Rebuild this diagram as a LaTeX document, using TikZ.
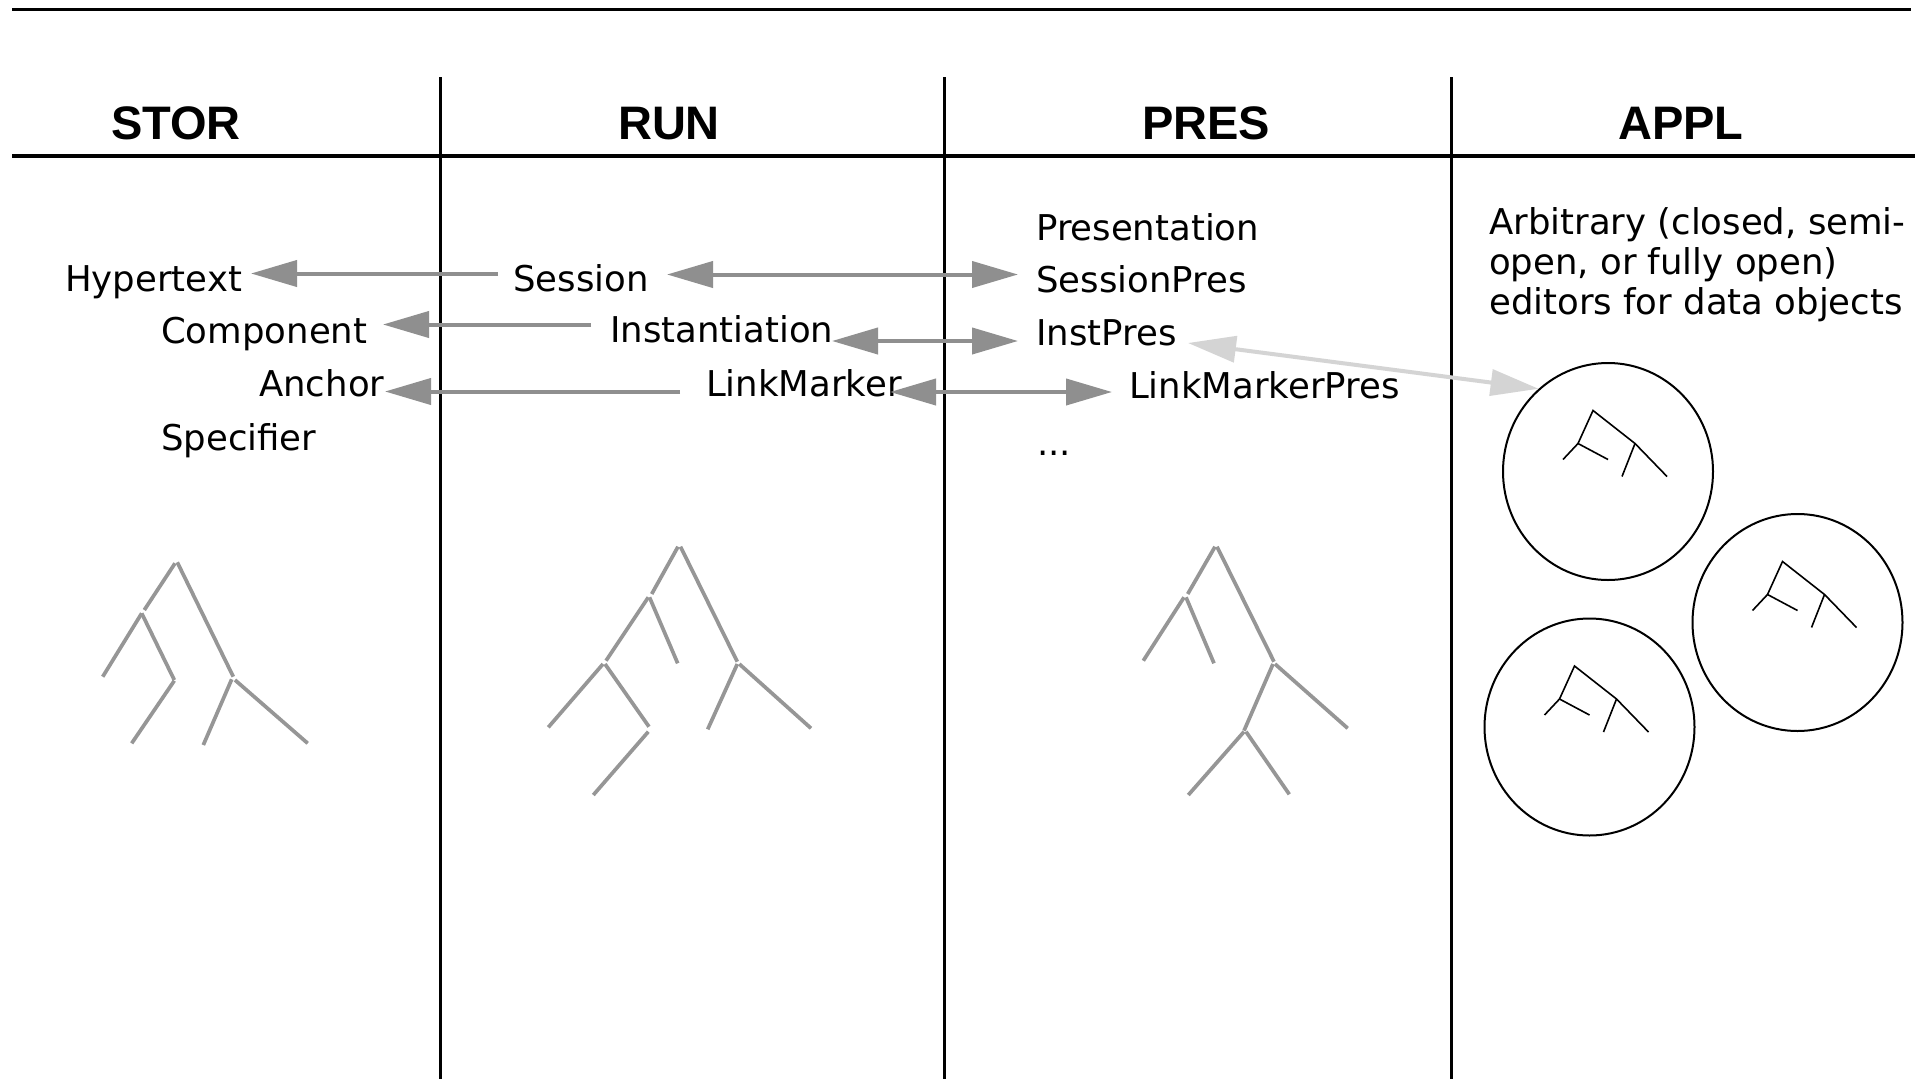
\documentclass[tikz,border=0pt]{standalone}
\usepackage{fontspec}
\setmainfont{DejaVu Sans}
\newfontfamily\hdfont{Liberation Sans}
\usetikzlibrary{arrows.meta,shapes.geometric}
\definecolor{agray}{RGB}{143,143,143}
\definecolor{lgray}{RGB}{212,212,212}
\definecolor{tgray}{RGB}{150,150,150}
\tikzset{
  lbl/.style={anchor=base west,inner sep=0pt,font=\fontsize{35.5}{40}\selectfont},
  hdr/.style={anchor=base,inner sep=0pt,font=\hdfont\bfseries\fontsize{47}{50}\selectfont},
  rulethin/.style={draw=black,line width=3pt},
  rulethick/.style={draw=black,line width=4pt},
  garr/.style={draw=agray,line width=4pt,-{Triangle[length=46pt,width=26pt]}},
  gdarr/.style={draw=agray,line width=4pt,{Triangle[length=46pt,width=26pt]}-{Triangle[length=46pt,width=26pt]}},
  ldarr/.style={draw=lgray,line width=4pt,{Triangle[length=48pt,width=26pt]}-{Triangle[length=48pt,width=26pt]}},
  branch/.style={draw=tgray,line width=3.7pt},
  twig/.style={draw=black,line width=1.6pt},
  editor/.style={draw=black,line width=2pt,ellipse,inner sep=0pt,minimum width=210pt,minimum height=217pt},
}
\newcommand\edtree[2]{%
  \begin{scope}[shift={(#1,#2)}]
    \draw[twig] (-45,-12) -- (-30,-28) -- (-15,-61) -- (27,-28) -- (59,5);
    \draw[twig] (-30,-28) -- (0,-12);
    \draw[twig] (27,-28) -- (14,5);
  \end{scope}}
\begin{document}
\begin{tikzpicture}[x=1pt,y=-1pt]
\useasboundingbox[fill=white] (0,0) rectangle (1927,1079);

% frame lines
\draw[rulethin] (12,9.5) -- (1911,9.5);
\draw[rulethick] (12,156) -- (1915,156);
\draw[rulethin] (440,77) -- (440,1079);
\draw[rulethin] (944,77) -- (944,1079);
\draw[rulethin] (1451,77) -- (1451,1079);

% headers
\node[hdr] (hstor) at (176,139) {STOR};
\node[hdr] (hrun)  at (669,139) {RUN};
\node[hdr] (hpres) at (1206,139) {PRES};
\node[hdr] (happl) at (1681,139) {APPL};

% STOR column
\node[lbl] (hyper) at (65,291.5) {Hypertext};
\node[lbl] (comp)  at (161,343) {Component};
\node[lbl] (anch)  at (259,396.5) {Anchor};
\node[lbl] (spec)  at (161,450) {Specifier};

% RUN column
\node[lbl] (sess) at (513,291) {Session};
\node[lbl] (inst) at (610,342.5) {Instantiation};
\node[lbl] (lm)   at (706,396.5) {LinkMarker};

% PRES column
\node[lbl] (pres) at (1036,240) {Presentation};
\node[lbl] (sp)   at (1036,292.5) {SessionPres};
\node[lbl] (ip)   at (1036,345.5) {InstPres};
\node[lbl] (lmp)  at (1129,398) {LinkMarkerPres};
\node[lbl] (dots) at (1037,455) {...};

% APPL column
\node[anchor=north west,inner sep=0pt,align=left,font=\fontsize{35.5}{40}\selectfont] (arb) at (1489,207)
  {Arbitrary (closed, semi-\\open, or fully open)\\editors for data objects};

\node[editor] (ed1) at (1608,471.5) {};
\node[editor] (ed2) at (1797.5,622.5) {};
\node[editor] (ed3) at (1589.5,727) {};
\edtree{1608}{471.5}
\edtree{1797.5}{622.5}
\edtree{1589.5}{727}

% arrow end points
\coordinate (sessL) at (498,273.5);
\coordinate (hyperR) at (251,273.5);
\coordinate (sessR) at (667,274.5);
\coordinate (spL) at (1018,274.5);
\coordinate (instL) at (591,324.5);
\coordinate (compR) at (383,324.5);
\coordinate (instR) at (832,341);
\coordinate (ipL) at (1018,341);
\coordinate (lmL) at (680,391.5);
\coordinate (anchR) at (385,391.5);
\coordinate (lmR) at (890,392);
\coordinate (lmpL) at (1112,392);
\coordinate (ipR) at (1188,343);

% connectors
\draw[garr] (sessL) -- (hyperR);
\draw[gdarr] (sessR) -- (spL);
\draw[garr] (instL) -- (compR);
\draw[gdarr] (instR) -- (ipL);
\draw[garr] (lmL) -- (anchR);
\draw[gdarr] (lmR) -- (lmpL);
\draw[ldarr] (ipR) -- (ed1.130);

% STOR tree
\draw[branch] (175,563.3) -- (144.3,610);
\draw[branch] (177.3,562.3) -- (233.3,676.7);
\draw[branch] (141.7,613.3) -- (102.7,676.7);
\draw[branch] (141.7,613.3) -- (174.3,680);
\draw[branch] (174.3,680.7) -- (131.7,743.3);
\draw[branch] (231.7,679.3) -- (203.3,745);
\draw[branch] (235,680) -- (307.7,743.3);

% RUN tree
\draw[branch] (678,546.7) -- (651.7,594);
\draw[branch] (680.5,546.7) -- (737.3,661.7);
\draw[branch] (648.3,597.3) -- (606,660.7);
\draw[branch] (649.5,597.3) -- (677.7,663.3);
\draw[branch] (603,664) -- (548.3,727.3);
\draw[branch] (605,664) -- (649,726.7);
\draw[branch] (648.3,731.7) -- (593.3,795);
\draw[branch] (737.3,664) -- (707.7,729.3);
\draw[branch] (739.3,664) -- (811,728.3);

% PRES tree
\draw[branch] (1215,546.7) -- (1187.7,594);
\draw[branch] (1217,546.7) -- (1274,661.7);
\draw[branch] (1184,597.3) -- (1143.3,660.7);
\draw[branch] (1186,597.3) -- (1214,663.3);
\draw[branch] (1273,664) -- (1244,730.7);
\draw[branch] (1275,664) -- (1347.7,728.3);
\draw[branch] (1244,731.7) -- (1188.3,795);
\draw[branch] (1246,731.7) -- (1289.3,794.3);
\end{tikzpicture}
\end{document}
